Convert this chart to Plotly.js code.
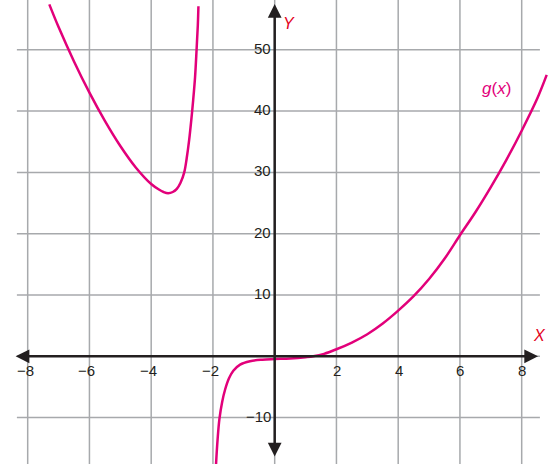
<!DOCTYPE html>
<html>
<head>
<meta charset="utf-8">
<script src="https://cdn.plot.ly/plotly-3.0.1.min.js"></script>
<style>html,body{margin:0;padding:0;background:#fff;}#chart{width:548px;height:464px;}</style>
</head>
<body>
<div id="chart"></div>
<script>
// Left branch of g(x) (left of the vertical asymptote)
const leftX = [-7.30, -7.00, -6.50, -6.00, -5.50, -5.00, -4.50, -4.00, -3.75, -3.60, -3.45, -3.30, -3.17, -3.05, -2.93, -2.85, -2.77, -2.70, -2.64, -2.58, -2.53, -2.49, -2.47];
const leftY = [57.4, 53.7, 48.1, 43.0, 38.4, 34.3, 30.8, 28.1, 27.2, 26.8, 26.6, 26.8, 27.3, 28.3, 30.0, 32.3, 35.3, 38.6, 41.8, 45.5, 50.0, 54.0, 57.1];
// Right branch of g(x)
const rightX = [-1.90, -1.85, -1.79, -1.70, -1.61, -1.48, -1.34, -1.12, -0.80, -0.40, 0.00, 0.50, 1.00, 1.25, 1.60, 2.00, 2.50, 3.00, 3.50, 4.00, 4.50, 5.00, 5.50, 6.00, 6.50, 7.00, 7.50, 8.00, 8.50, 8.81];
const rightY = [-17.6, -13.6, -10.2, -7.4, -5.5, -3.6, -2.35, -1.35, -0.8, -0.55, -0.45, -0.35, -0.15, 0.0, 0.4, 1.15, 2.25, 3.6, 5.35, 7.45, 9.8, 12.6, 15.9, 19.75, 23.5, 27.6, 32.0, 36.8, 42.0, 45.9];

// Axis tick labels
const xTickVals = [-8, -6, -4, -2, 2, 4, 6, 8];
const xTickText = ["\u22128", "\u22126", "\u22124", "\u22122", "2", "4", "6", "8"];
const yTickVals = [-10, 10, 20, 30, 40, 50];
const yTickText = ["\u221210", "10", "20", "30", "40", "50"];
// Grid lines
const gridX = [-8, -6, -4, -2, 0, 2, 4, 6, 8];
const gridY = [-10, 0, 10, 20, 30, 40, 50];

const FONT = "Liberation Sans, Arial, Helvetica, sans-serif";
const AXIS_COLOR = "#231f20";
const GRID_COLOR = "#a7a9ac";
const CURVE_COLOR = "#e2007a";
const LABEL_RED = "#e3001b";

const traces = [
  {x: leftX, y: leftY, mode: "lines", line: {color: CURVE_COLOR, width: 2.5, shape: "spline", smoothing: 1}, hoverinfo: "skip"},
  {x: rightX, y: rightY, mode: "lines", line: {color: CURVE_COLOR, width: 2.5, shape: "spline", smoothing: 1}, hoverinfo: "skip"}
];

const shapes = [];
gridX.forEach(v => shapes.push({type: "line", xref: "x", yref: "paper", x0: v, x1: v, y0: 0, y1: 1, line: {color: GRID_COLOR, width: 1.5}, layer: "below"}));
gridY.forEach(v => shapes.push({type: "line", xref: "x", yref: "y", x0: -8.35, x1: 8.59, y0: v, y1: v, line: {color: GRID_COLOR, width: 1.5}, layer: "below"}));

const annotations = [];
// axes with arrows
annotations.push({x: 8.53, y: 0, ax: -8.44, ay: 0, xref: "x", yref: "y", axref: "x", ayref: "y", text: "", showarrow: true,
  arrowhead: 2, startarrowhead: 2, arrowside: "end+start", arrowsize: 1.1, startarrowsize: 1.1, arrowwidth: 2.5, arrowcolor: AXIS_COLOR, standoff: 0, startstandoff: 0});
annotations.push({x: 0, y: 57.47, ax: 0, ay: -16.6, xref: "x", yref: "y", axref: "x", ayref: "y", text: "", showarrow: true,
  arrowhead: 2, startarrowhead: 2, arrowside: "end+start", arrowsize: 1.1, startarrowsize: 1.1, arrowwidth: 2.5, arrowcolor: AXIS_COLOR, standoff: 0, startstandoff: 0});
// tick labels
xTickVals.forEach((v, i) => annotations.push({x: v, y: 0, xref: "x", yref: "y", text: xTickText[i], showarrow: false,
  xanchor: "center", yanchor: "middle", yshift: -14, xshift: v < 0 ? -2.5 : 0.5, font: {family: FONT, size: 15, color: AXIS_COLOR}}));
yTickVals.forEach((v, i) => annotations.push({x: 0, y: v, xref: "x", yref: "y", text: yTickText[i], showarrow: false,
  xanchor: "right", yanchor: "middle", xshift: -2, yshift: 1.5, font: {family: FONT, size: 15, color: AXIS_COLOR}}));
// axis names and curve label
annotations.push({x: 8.57, y: 3.47, xref: "x", yref: "y", text: "<i>X</i>", showarrow: false, xanchor: "center", yanchor: "middle", font: {family: FONT, size: 16, color: LABEL_RED}});
annotations.push({x: 0.47, y: 54.3, xref: "x", yref: "y", text: "<i>Y</i>", showarrow: false, xanchor: "center", yanchor: "middle", font: {family: FONT, size: 16, color: LABEL_RED}});
annotations.push({x: 7.19, y: 43.7, xref: "x", yref: "y", text: "<i>g</i>(<i>x</i>)", showarrow: false, xanchor: "center", yanchor: "middle", font: {family: FONT, size: 17, color: CURVE_COLOR}});

const layout = {
  width: 548, height: 464,
  margin: {l: 0, r: 0, t: 0, b: 0, pad: 0},
  paper_bgcolor: "#ffffff", plot_bgcolor: "#ffffff",
  showlegend: false,
  xaxis: {range: [-8.897, 8.852], visible: false, showgrid: false, zeroline: false, fixedrange: true},
  yaxis: {range: [-17.57, 58.12], visible: false, showgrid: false, zeroline: false, fixedrange: true},
  shapes: shapes,
  annotations: annotations
};

Plotly.newPlot("chart", traces, layout, {displayModeBar: false, staticPlot: true});
</script>
</body>
</html>
